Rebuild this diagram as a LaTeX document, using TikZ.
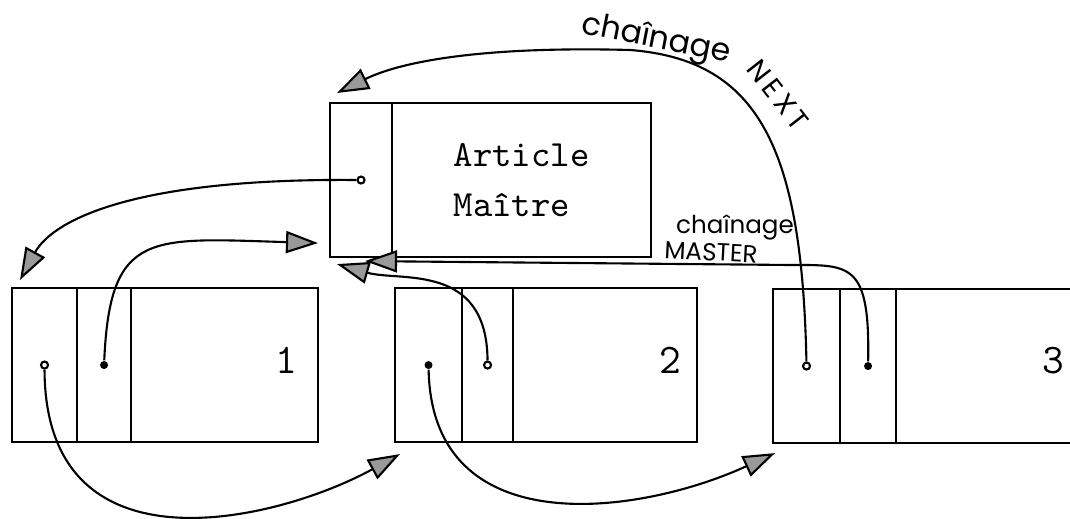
\documentclass[tikz,border=0pt]{standalone}
\usepackage{fontspec}
\newfontfamily\hand{Poppins}
\newfontfamily\handwide[LetterSpace=15]{Poppins}
\usepackage{tikz}
\usetikzlibrary{positioning}
\usetikzlibrary{arrows.meta}
\tikzstyle{cell} = [draw, line width=0.7pt, minimum height=1.54cm, inner sep=0pt, outer sep=0pt]
\tikzstyle{ptropen} = [circle, draw, fill=white, line width=0.6pt, minimum size=0.07cm, inner sep=0pt]
\tikzstyle{ptrfull} = [circle, fill=black, minimum size=0.08cm, inner sep=0pt]
\tikzstyle{chain} = [line width=0.6pt, -{Triangle[length=3.2mm, width=2.2mm, fill=black!40]}]
\tikzstyle{num} = [font=\ttfamily\fontsize{12}{14}\selectfont, inner sep=0pt, yshift=0.05cm]
\tikzstyle{hand} = [font=\hand\fontsize{7}{8}\selectfont, inner sep=0pt]
\tikzstyle{bighand} = [font=\hand\fontsize{9}{10}\selectfont, inner sep=0pt]

\begin{document}
\begin{tikzpicture}[x=0.01cm, y=-0.01cm]
	%Frame
	\useasboundingbox (0,0) rectangle (1070,519);
	\clip (0,0) rectangle (1070,519);
	
	%Master record
	\node [cell, minimum width=0.62cm, anchor=north west] (m-nxt) at (330,103) {};
	\node [cell, minimum width=2.59cm, right=0cm of m-nxt, align=left, font=\ttfamily\fontsize{10.5}{14}\selectfont] (m-data) {Article\\Maître};
	
	%Member records
	\node [cell, minimum width=0.65cm, anchor=north west] (r1-nxt) at (12,288) {};
	\node [cell, minimum width=0.54cm, right=0cm of r1-nxt] (r1-own) {};
	\node [cell, minimum width=1.87cm, right=0cm of r1-own] (r1-data) {};
	
	\node [cell, minimum width=0.67cm, anchor=north west] (r2-nxt) at (395,288) {};
	\node [cell, minimum width=0.51cm, right=0cm of r2-nxt] (r2-own) {};
	\node [cell, minimum width=1.84cm, right=0cm of r2-own] (r2-data) {};
	
	\node [cell, minimum width=0.67cm, anchor=north west] (r3-nxt) at (773,289) {};
	\node [cell, minimum width=0.56cm, right=0cm of r3-nxt] (r3-own) {};
	\node [cell, minimum width=1.84cm, right=0cm of r3-own] (r3-data) {};
	
	\node [num, left=0.2cm of r1-data.east] (n1) {1};
	\node [num, left=0.15cm of r2-data.east] (n2) {2};
	\node [num, left=0.15cm of r3-data.east] (n3) {3};
	
	%Pointers
	\node [ptropen] (m-p) at (m-nxt) {};
	\node [ptropen] (r1-pn) at (r1-nxt) {};
	\node [ptrfull] (r1-pm) at (r1-own) {};
	\node [ptrfull] (r2-pn) at (r2-nxt) {};
	\node [ptropen] (r2-pm) at (r2-own) {};
	\node [ptropen] (r3-pn) at (r3-nxt) {};
	\node [ptrfull] (r3-pm) at (r3-own) {};
	
	%Arrow ends
	\coordinate [above right=0.08cm and 0.08cm of r1-nxt.north west] (tip-r1);
	\coordinate [below right=0.12cm and 0.05cm of r2-nxt.south west] (tip-r2);
	\coordinate [below right=0.10cm and 0.02cm of r3-nxt.south west] (tip-r3);
	\coordinate [above right=0.10cm and 0.07cm of m-nxt.north west] (tip-next);
	\coordinate [above left=0.14cm and 0.12cm of m-nxt.south west] (tip-m1);
	\coordinate [below right=0.07cm and 0.07cm of m-nxt.south west] (tip-m2);
	\coordinate [below right=0.04cm and 0.35cm of m-nxt.south west] (tip-m3);
	
	%NEXT chain
	\draw[chain] (m-p) .. controls (120,178) and (50,225) .. (tip-r1);
	\draw[chain] (r1-pn) .. controls (45,580) and (280,520) .. (tip-r2);
	\draw[chain] (r2-pn) .. controls (432,545) and (640,515) .. (tip-r3);
	\draw[chain] (r3-pn) .. controls (802,150) and (760,60) .. (630,50) .. controls (480,46) and (400,62) .. (tip-next);
	
	%MASTER chain
	\draw[chain] (r1-pm) .. controls (110,230) and (150,238) .. (tip-m1);
	\draw[chain] (r2-pm) .. controls (487,262) and (400,282) .. (tip-m2);
	\draw[chain] (r3-pm) .. controls (870,262) and (850,265) .. (790,265) -- (tip-m3);
	
	%Labels
	\node [bighand, rotate=-11] (lbl-next1) at (656,40) {chaînage};
	\node [font=\handwide\fontsize{8}{9}\selectfont, inner sep=0pt, rotate=-52] (lbl-next2) at (778,95) {NEXT};
	\node [hand] (lbl-chain) at (735,228) {chaînage};
	\node [hand, rotate=-3] (lbl-master) at (711,252) {MASTER};
\end{tikzpicture}
\end{document}
